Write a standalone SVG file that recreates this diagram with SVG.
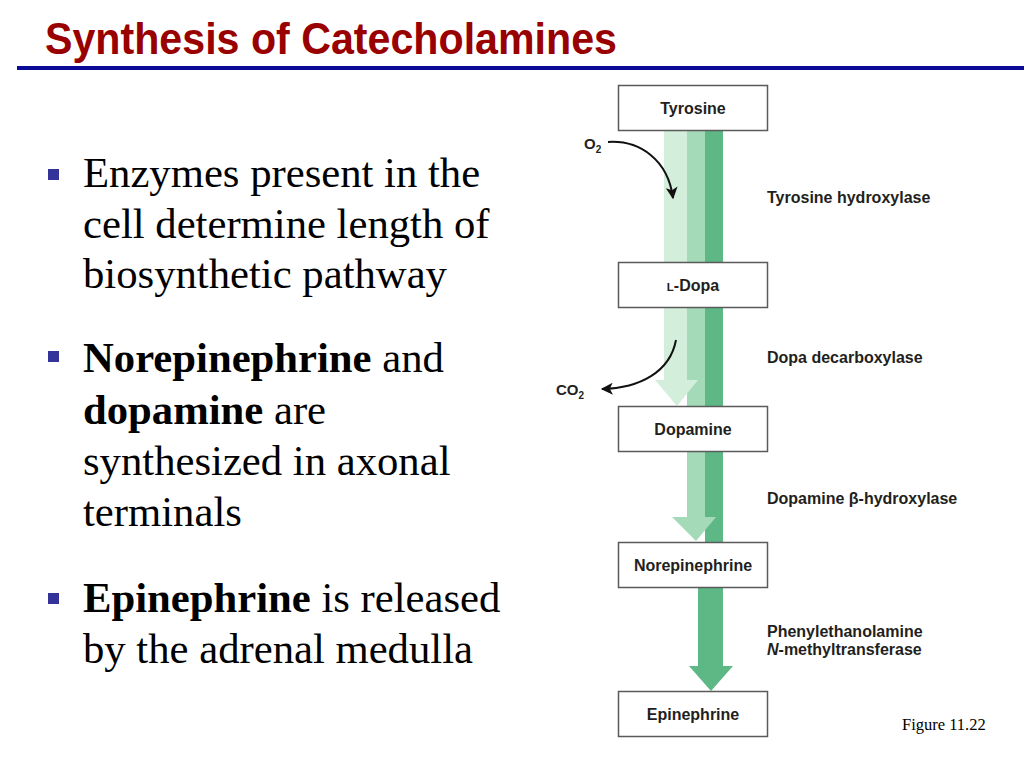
<svg xmlns="http://www.w3.org/2000/svg" width="1024" height="768" viewBox="0 0 1024 768">
  <style>
    .title { font-family: "Liberation Sans", Arial, sans-serif; font-weight: bold; font-size: 44px; fill: #990000; }
    .body { font-family: "Liberation Serif", "Times New Roman", serif; font-size: 42.7px; fill: #000000; }
    .b { font-weight: bold; }
    .bullet { fill: #333399; }
    .box { fill: #ffffff; stroke: #5a5a5a; stroke-width: 1.5; }
    .blabel { font-family: "Liberation Sans", Arial, sans-serif; font-weight: bold; font-size: 16px; fill: #231f20; text-anchor: middle; }
    .elabel { font-family: "Liberation Sans", Arial, sans-serif; font-weight: bold; font-size: 16px; fill: #231f20; }
    .mlabel { font-family: "Liberation Sans", Arial, sans-serif; font-weight: bold; font-size: 15px; fill: #231f20; }
    .fig { font-family: "Liberation Serif", "Times New Roman", serif; font-size: 16.5px; fill: #000000; }
    .light { fill: #d3eedb; }
    .med { fill: #a4dab7; }
    .dark { fill: #5db886; }
    .curve { fill: none; stroke: #111111; stroke-width: 2; }
  </style>
  <defs>
    <marker id="ah" viewBox="0 0 10 10" refX="9" refY="5" markerWidth="7" markerHeight="6" orient="auto" markerUnits="strokeWidth">
      <path d="M0,0 L10,5 L0,10 L2.5,5 Z" fill="#111111"/>
    </marker>
  </defs>
  <rect width="1024" height="768" fill="#ffffff"/>

  <!-- Title -->
  <text class="title" x="45" y="54" textLength="572" lengthAdjust="spacingAndGlyphs">Synthesis of Catecholamines</text>
  <rect x="17" y="66" width="1007" height="4" fill="#0a0a96"/>

  <!-- Bullets -->
  <g id="bullets">
    <rect class="bullet" x="48" y="169" width="11" height="11"/>
    <text class="body" x="83" y="187">Enzymes present in the</text>
    <text class="body" x="83" y="238">cell determine length of</text>
    <text class="body" x="83" y="288">biosynthetic pathway</text>

    <rect class="bullet" x="48" y="351" width="11" height="11"/>
    <text class="body" x="83" y="372"><tspan class="b">Norepinephrine</tspan> and</text>
    <text class="body" x="83" y="424"><tspan class="b">dopamine</tspan> are</text>
    <text class="body" x="83" y="475">synthesized in axonal</text>
    <text class="body" x="83" y="526">terminals</text>

    <rect class="bullet" x="48" y="593" width="11" height="11"/>
    <text class="body" x="83" y="612"><tspan class="b">Epinephrine</tspan> is released</text>
    <text class="body" x="83" y="663">by the adrenal medulla</text>
  </g>

  <!-- Green pathway arrows (connectors) -->
  <g id="connectors">
    <rect class="dark" x="705" y="130" width="18" height="413"/>
    <path class="med" d="M687,130 H705 V517 H716 L696,541 L672,517 H687 Z"/>
    <path class="light" d="M664,130 H687 V380 H698 L677,406 L655,380 H664 Z"/>
    <path class="dark" d="M698,587 H723 V666 H733 L711,691 L689,666 H698 Z"/>
    <path class="curve" d="M608,142 C640,140 668,160 673,198" marker-end="url(#ah)"/>
    <path class="curve" d="M676,340 C670,372 640,388 602,389" marker-end="url(#ah)"/>
  </g>

  <!-- Nodes -->
  <g id="node-tyrosine">
    <rect class="box" x="618.5" y="85.5" width="149" height="45"/>
    <text class="blabel" x="693" y="114">Tyrosine</text>
  </g>
  <g id="node-ldopa">
    <rect class="box" x="618.5" y="262.5" width="149" height="45"/>
    <text class="blabel" x="693" y="291"><tspan font-size="11.5">L</tspan>-Dopa</text>
  </g>
  <g id="node-dopamine">
    <rect class="box" x="618.5" y="406.5" width="149" height="45"/>
    <text class="blabel" x="693" y="435">Dopamine</text>
  </g>
  <g id="node-norepinephrine">
    <rect class="box" x="618.5" y="542.5" width="149" height="45"/>
    <text class="blabel" x="693" y="571">Norepinephrine</text>
  </g>
  <g id="node-epinephrine">
    <rect class="box" x="618.5" y="691.5" width="149" height="45"/>
    <text class="blabel" x="693" y="720">Epinephrine</text>
  </g>

  <!-- Small molecule labels -->
  <g id="label-o2">
    <text class="mlabel" x="584" y="149">O<tspan font-size="10" dy="4">2</tspan></text>
  </g>
  <g id="label-co2">
    <text class="mlabel" x="556" y="395">CO<tspan font-size="10" dy="4">2</tspan></text>
  </g>

  <!-- Enzyme labels -->
  <g id="enzymes">
    <text class="elabel" x="767" y="203">Tyrosine hydroxylase</text>
    <text class="elabel" x="767" y="363">Dopa decarboxylase</text>
    <text class="elabel" x="767" y="504">Dopamine β-hydroxylase</text>
    <text class="elabel" x="767" y="637">Phenylethanolamine</text>
    <text class="elabel" x="767" y="655"><tspan font-style="italic">N</tspan>-methyltransferase</text>
  </g>

  <text class="fig" x="902" y="730">Figure 11.22</text>
</svg>
